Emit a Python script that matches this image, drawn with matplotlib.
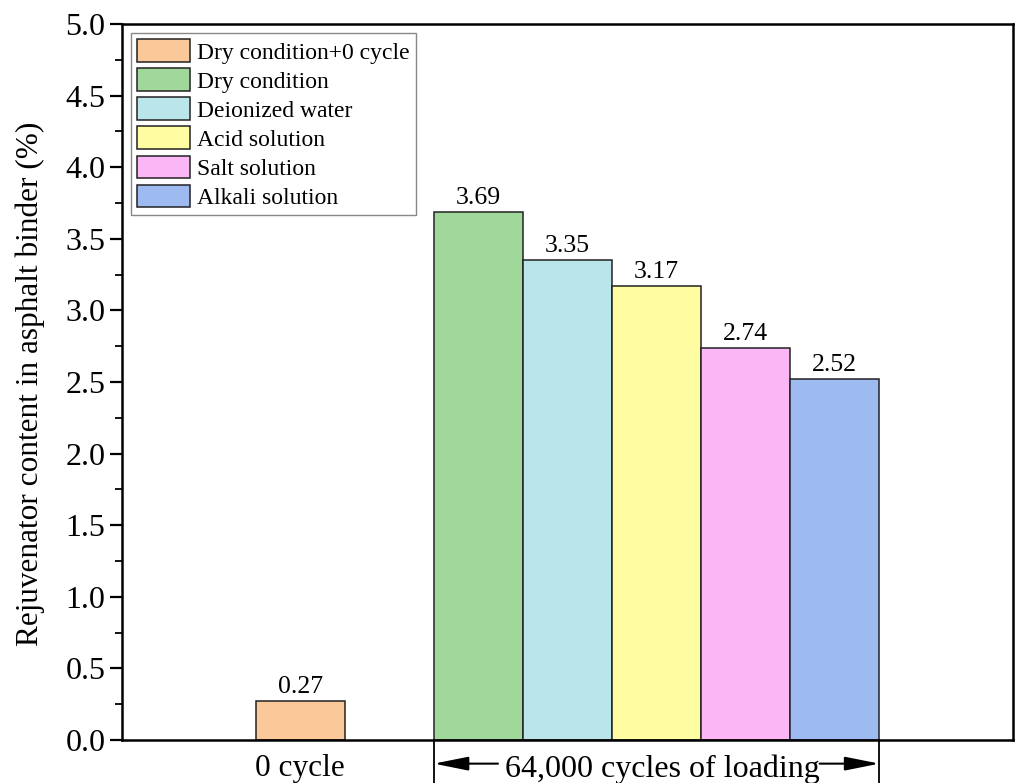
import matplotlib.pyplot as plt
from matplotlib.ticker import MultipleLocator

plt.rcParams['font.family'] = ['Liberation Serif', 'DejaVu Serif']

labels = ['Dry condition+0 cycle', 'Dry condition', 'Deionized water',
          'Acid solution', 'Salt solution', 'Alkali solution']
values = [0.27, 3.69, 3.35, 3.17, 2.74, 2.52]
positions = [2, 4, 5, 6, 7, 8]
colors = ['#FBC899', '#A0D89C', '#BAE5EA', '#FFFCA1', '#FBB7F5', '#9DBBF1']

fig = plt.figure(figsize=(10.19, 7.83), dpi=100)
ax = fig.add_axes([0.1197, 0.0549, 0.8744, 0.9144])

bars = ax.bar(positions, values, width=1.0, color=colors, edgecolor='#222222',
              linewidth=1.1, label=labels)
for b, v in zip(bars, values):
    ax.text(b.get_x() + b.get_width() / 2, v + 0.02, f'{v:.2f}',
            ha='center', va='bottom', fontsize=18.5)

ax.set_xlim(0, 10)
ax.set_ylim(0, 5.0)
ax.yaxis.set_major_locator(MultipleLocator(0.5))
ax.yaxis.set_minor_locator(MultipleLocator(0.25))
ax.set_xticks([])
ax.tick_params(axis='y', which='major', direction='out', length=9, width=1.6,
               labelsize=23, pad=3)
ax.tick_params(axis='y', which='minor', direction='out', length=5, width=1.3)
for s in ax.spines.values():
    s.set_linewidth(1.8)

fig.text(30 / 1019, 0.51, 'Rejuvenator content in asphalt binder (%)',
         rotation=90, ha='center', va='center', fontsize=22.5)

# group labels under the axis
ax.text(2, -0.1, '0 cycle', ha='center', va='top', fontsize=22.5, clip_on=False)
for xv in (3.5, 8.5):
    ax.plot([xv, xv], [0, -0.3], color='black', lw=1.3, clip_on=False)
ax.text(6.06, -0.1, '64,000 cycles of loading', ha='center', va='top',
        fontsize=23, clip_on=False)
arrow = dict(arrowstyle='-|>,head_length=1.5,head_width=0.3', color='black',
             lw=1.5, mutation_scale=14, shrinkA=0, shrinkB=0)
ax.annotate('', xy=(3.5, -0.165), xytext=(4.22, -0.165), arrowprops=arrow,
            annotation_clip=False)
ax.annotate('', xy=(8.5, -0.165), xytext=(7.83, -0.165), arrowprops=arrow,
            annotation_clip=False)

leg = ax.legend(loc='upper left', bbox_to_anchor=(0.010, 0.987), fontsize=17,
                fancybox=False, edgecolor='#888888', framealpha=1,
                handlelength=2.25, handleheight=1.1, handletextpad=0.3,
                labelspacing=0.2, borderpad=0.25, borderaxespad=0)
leg.get_frame().set_linewidth(1.0)

fig.savefig('out.png', dpi=100)
